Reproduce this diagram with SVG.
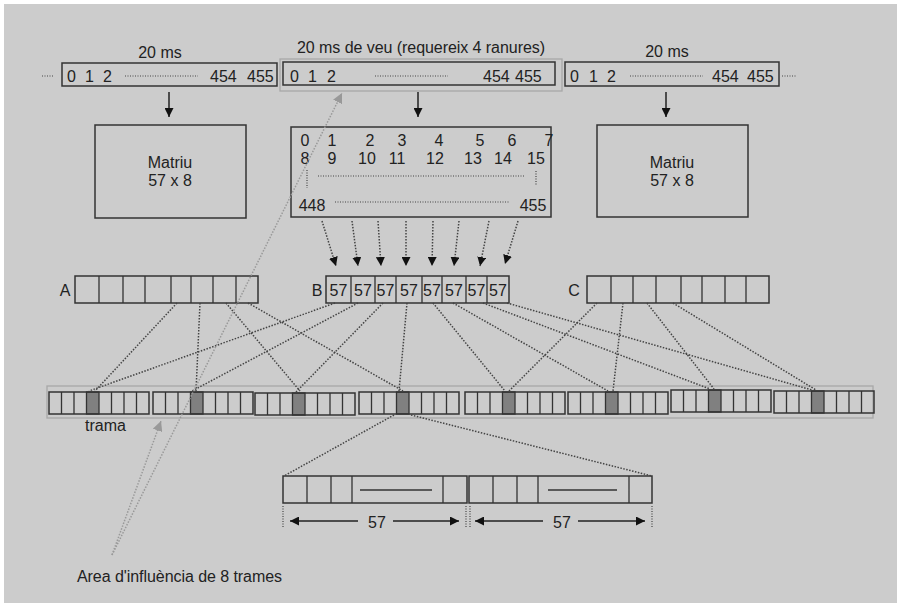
<svg xmlns="http://www.w3.org/2000/svg" width="901" height="607" viewBox="0 0 901 607">
<defs>
<style>
.t{font-family:"Liberation Sans",Arial,sans-serif;font-size:16px;fill:#222}
.m{text-anchor:middle}
.box{fill:none;stroke:#333;stroke-width:1.5}
.cell{fill:none;stroke:#333;stroke-width:1.3}
.dk{fill:#808080;stroke:#333;stroke-width:1.3}
.halo{fill:none;stroke:#a8a8a8;stroke-width:1.3}
.dot{fill:none;stroke:#444;stroke-width:1.5;stroke-dasharray:1.5 1.5}
.fdot{fill:none;stroke:#444;stroke-width:1.2;stroke-dasharray:1 1.5}
.gdot{fill:none;stroke:#999;stroke-width:1.5;stroke-dasharray:1.5 1.5}
.sol{fill:none;stroke:#222;stroke-width:1.5}
</style>
<marker id="ah" viewBox="0 0 10 10" refX="10" refY="5" markerWidth="9" markerHeight="9" markerUnits="userSpaceOnUse" orient="auto"><path d="M0,0 L10,5 L0,10 z" fill="#111"/></marker>
<marker id="ahg" viewBox="0 0 10 10" refX="10" refY="5" markerWidth="10" markerHeight="10" markerUnits="userSpaceOnUse" orient="auto"><path d="M0,0 L10,5 L0,10 z" fill="#999"/></marker>
</defs>
<rect x="0" y="0" width="901" height="607" fill="#fff"/>
<rect x="4" y="4" width="893" height="599" fill="#cccccc"/>

<g id="block-left">
<text class="t m" x="160" y="58">20 ms</text>
<line class="fdot" x1="42" y1="76" x2="54" y2="76"/>
<rect class="box" x="62" y="63" width="215" height="23"/>
<text class="t" x="67" y="82">0</text><text class="t" x="85" y="82">1</text><text class="t" x="103" y="82">2</text>
<line class="fdot" x1="125" y1="76" x2="198" y2="76"/>
<text class="t" x="210" y="82">454</text><text class="t" x="247" y="82">455</text>
</g>
<g id="block-mid">
<text class="t m" x="421" y="53" textLength="248">20 ms de veu (requereix 4 ranures)</text>
<rect class="halo" x="280" y="59" width="282" height="32"/>
<rect class="box" x="283" y="62" width="272" height="23"/>
<text class="t" x="290" y="82">0</text><text class="t" x="308" y="82">1</text><text class="t" x="327" y="82">2</text>
<line class="fdot" x1="375" y1="76" x2="448" y2="76"/>
<text class="t" x="483" y="82">454</text><text class="t" x="515" y="82">455</text>
</g>
<g id="block-right">
<text class="t m" x="667" y="57">20 ms</text>
<rect class="box" x="565" y="62" width="214" height="24"/>
<text class="t" x="570" y="82">0</text><text class="t" x="589" y="82">1</text><text class="t" x="607" y="82">2</text>
<line class="fdot" x1="630" y1="76" x2="703" y2="76"/>
<text class="t" x="712" y="82">454</text><text class="t" x="747" y="82">455</text>
<line class="fdot" x1="782" y1="76" x2="797" y2="76"/>
</g>

<g id="matrix-left">
<rect class="box" x="95" y="125" width="151" height="93"/>
<text class="t m" x="170" y="168">Matriu</text>
<text class="t m" x="170" y="186">57 x 8</text>
</g>
<g id="matrix-right">
<rect class="box" x="597" y="125" width="151" height="92"/>
<text class="t m" x="672" y="168">Matriu</text>
<text class="t m" x="672" y="186">57 x 8</text>
</g>
<g id="matrix-mid">
<rect class="box" x="291" y="127" width="260" height="90"/>
<g class="t m">
<text x="305" y="146">0</text><text x="332" y="146">1</text><text x="370" y="146">2</text><text x="402" y="146">3</text><text x="439" y="146">4</text><text x="480" y="146">5</text><text x="512" y="146">6</text><text x="549" y="146">7</text>
<text x="305" y="164">8</text><text x="332" y="164">9</text><text x="367" y="164">10</text><text x="397" y="164">11</text><text x="435" y="164">12</text><text x="473" y="164">13</text><text x="503" y="164">14</text><text x="536" y="164">15</text>
<text x="312" y="211">448</text><text x="533" y="211">455</text>
</g>
<line class="fdot" x1="307" y1="170" x2="307" y2="188"/>
<line class="fdot" x1="318" y1="176" x2="525" y2="176"/>
<line class="fdot" x1="536" y1="171" x2="536" y2="186"/>
<line class="fdot" x1="335" y1="202" x2="509" y2="202"/>
</g>

<g id="row-A">
<text class="t m" x="65" y="296">A</text>
<rect class="box" x="75" y="276" width="183" height="27"/>
<path class="cell" d="M99,276V303M123,276V303M145,276V303M171,276V303M191,276V303M213,276V303M236,276V303"/>
</g>
<g id="row-B">
<text class="t m" x="317" y="296">B</text>
<rect class="box" x="326" y="276" width="183" height="27"/>
<path class="cell" d="M351,276V303M375,276V303M396,276V303M422,276V303M442,276V303M466,276V303M487,276V303"/>
<g class="t m"><text x="338.5" y="296">57</text><text x="363" y="296">57</text><text x="385.5" y="296">57</text><text x="409" y="296">57</text><text x="432" y="296">57</text><text x="454" y="296">57</text><text x="476.5" y="296">57</text><text x="498" y="296">57</text></g>
</g>
<g id="row-C">
<text class="t m" x="574" y="296">C</text>
<rect class="box" x="587" y="276" width="182" height="27"/>
<path class="cell" d="M611,276V303M633,276V303M656,276V303M681,276V303M702,276V303M725,276V303M746,276V303"/>
</g>

<g id="frames">
<rect class="halo" x="47" y="386" width="826" height="32"/>
<g id="f1"><rect class="dk" x="86.5" y="392" width="12.5" height="22"/><rect class="box" x="49" y="392" width="100" height="22"/><path class="cell" d="M61.5,392V414M74,392V414M111.5,392V414M124,392V414M136.5,392V414"/></g>
<g id="f2"><rect class="dk" x="190.5" y="392" width="12.5" height="22"/><rect class="box" x="153" y="392" width="100" height="22"/><path class="cell" d="M165.5,392V414M178,392V414M215.5,392V414M228,392V414M240.5,392V414"/></g>
<g id="f3"><rect class="dk" x="292.5" y="393" width="12.5" height="22"/><rect class="box" x="255" y="393" width="100" height="22"/><path class="cell" d="M267.5,393V415M280,393V415M317.5,393V415M330,393V415M342.5,393V415"/></g>
<g id="f4"><rect class="dk" x="396.5" y="392" width="12.5" height="22"/><rect class="box" x="359" y="392" width="100" height="22"/><path class="cell" d="M371.5,392V414M384,392V414M421.5,392V414M434,392V414M446.5,392V414"/></g>
<g id="f5"><rect class="dk" x="502.5" y="392" width="12.5" height="22"/><rect class="box" x="465" y="392" width="100" height="22"/><path class="cell" d="M477.5,392V414M490,392V414M527.5,392V414M540,392V414M552.5,392V414"/></g>
<g id="f6"><rect class="dk" x="605.5" y="392" width="12.5" height="22"/><rect class="box" x="568" y="392" width="100" height="22"/><path class="cell" d="M580.5,392V414M593,392V414M630.5,392V414M643,392V414M655.5,392V414"/></g>
<g id="f7"><rect class="dk" x="708.5" y="390" width="12.5" height="22"/><rect class="box" x="671" y="390" width="100" height="22"/><path class="cell" d="M683.5,390V412M696,390V412M733.5,390V412M746,390V412M758.5,390V412"/></g>
<g id="f8"><rect class="dk" x="811.5" y="391" width="12.5" height="22"/><rect class="box" x="774" y="391" width="100" height="22"/><path class="cell" d="M786.5,391V413M799,391V413M836.5,391V413M849,391V413M861.5,391V413"/></g>
<text class="t" x="85" y="431">trama</text>
</g>

<g id="burst-detail">
<rect class="box" x="283" y="476" width="184" height="27"/>
<path class="cell" d="M307,476V503M331,476V503M352,476V503M443,476V503M360,490H432"/>
<rect class="box" x="469" y="476" width="183" height="27"/>
<path class="cell" d="M493,476V503M517,476V503M538,476V503M629,476V503M548,490H617"/>
</g>

<g id="dimension">
<path class="fdot" d="M283,506V528M466,506V528M470,506V528M652,506V528"/>
<line class="sol" x1="358" y1="521" x2="290" y2="521" marker-end="url(#ah)"/>
<line class="sol" x1="393" y1="521" x2="459" y2="521" marker-end="url(#ah)"/>
<text class="t m" x="377" y="528">57</text>
<line class="sol" x1="543" y1="521" x2="475" y2="521" marker-end="url(#ah)"/>
<line class="sol" x1="578" y1="521" x2="645" y2="521" marker-end="url(#ah)"/>
<text class="t m" x="562" y="528">57</text>
</g>

<g id="label-area">
<text class="t" x="77" y="582" textLength="205">Area d'influència de 8 trames</text>
</g>

<g id="connectors">
<line class="sol" x1="169" y1="92" x2="169" y2="117" marker-end="url(#ah)"/>
<line class="sol" x1="418" y1="92" x2="418" y2="117" marker-end="url(#ah)"/>
<line class="sol" x1="666" y1="92" x2="666" y2="117" marker-end="url(#ah)"/>

<line class="dot" x1="322" y1="221" x2="336" y2="266" marker-end="url(#ah)"/>
<line class="dot" x1="352" y1="221" x2="358" y2="266" marker-end="url(#ah)"/>
<line class="dot" x1="378" y1="221" x2="381" y2="266" marker-end="url(#ah)"/>
<line class="dot" x1="406" y1="221" x2="406" y2="266" marker-end="url(#ah)"/>
<line class="dot" x1="433" y1="221" x2="432" y2="266" marker-end="url(#ah)"/>
<line class="dot" x1="459" y1="221" x2="454" y2="266" marker-end="url(#ah)"/>
<line class="dot" x1="489" y1="221" x2="480" y2="266" marker-end="url(#ah)"/>
<line class="dot" x1="518" y1="221" x2="505" y2="264" marker-end="url(#ah)"/>

<path class="dot" d="M177,303L95,391M200,303L196,391M226,303L300,391M248,303L403,391"/>
<path class="dot" d="M335,303L89,391M358,303L192,391M383,303L296,392M407,303L399,391M433,303L505,391M453,303L608,391M483,303L710,389M507,303L812,390"/>
<path class="dot" d="M597,303L509,391M623,303L613,391M647,303L714,389M673,303L816,390"/>

<path class="dot" d="M394,415L284,476M411,415L652,476"/>

<line class="gdot" x1="112" y1="555" x2="342" y2="93" marker-end="url(#ahg)"/>
<line class="gdot" x1="112" y1="555" x2="161" y2="421" marker-end="url(#ahg)"/>
</g>
</svg>
